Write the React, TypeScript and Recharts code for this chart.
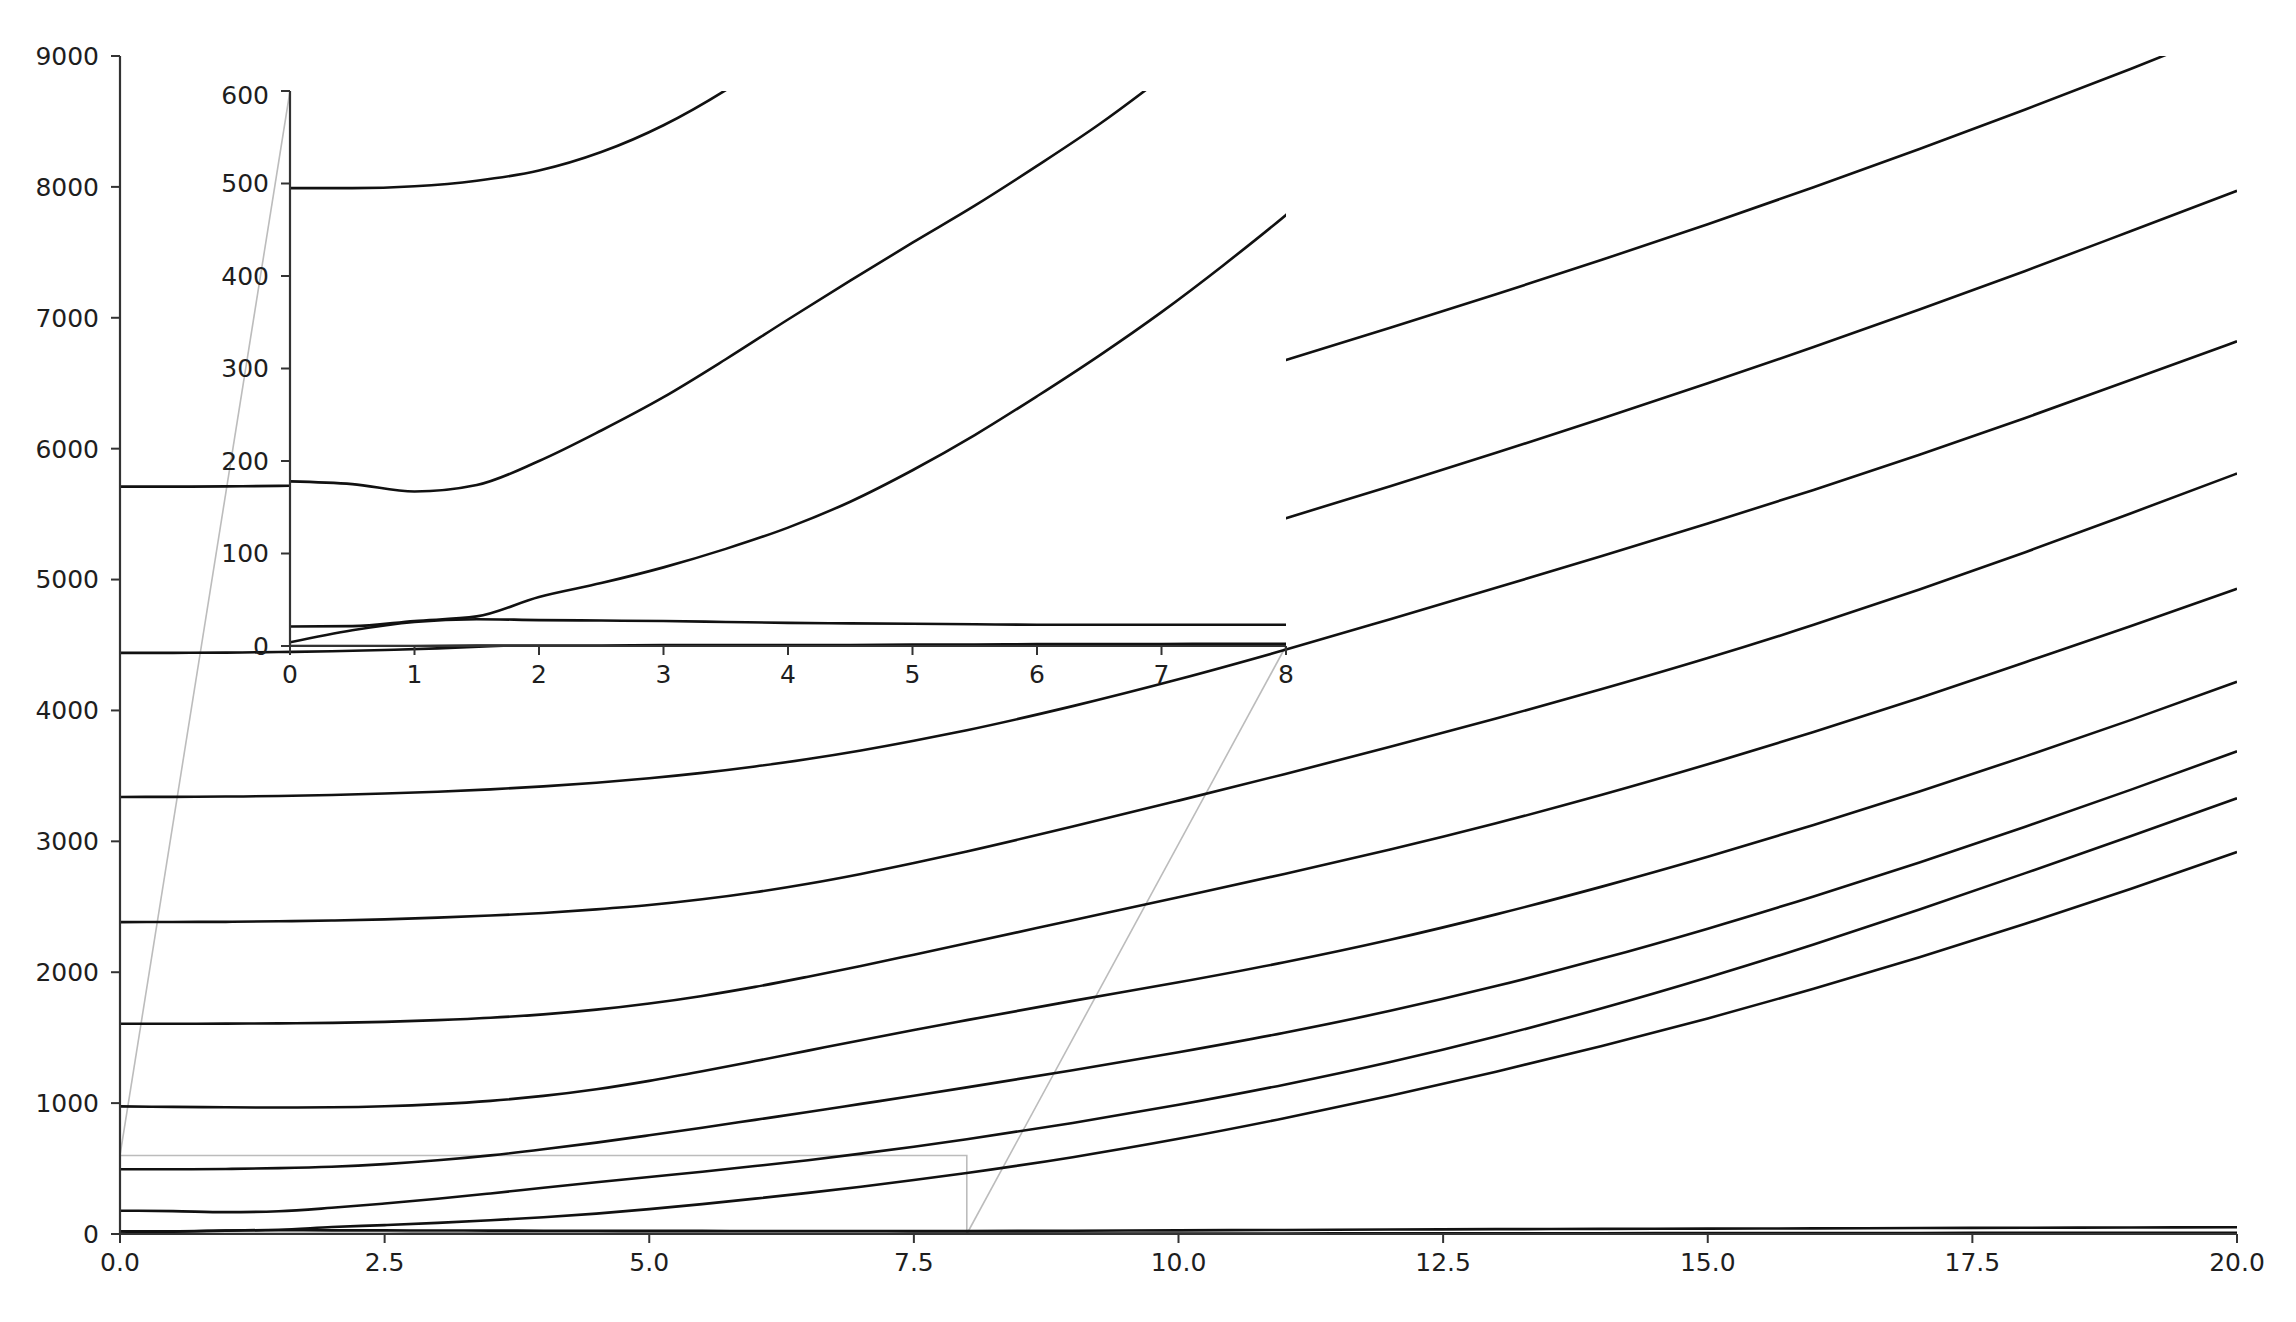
import React from "react";
import { LineChart, Line, XAxis, YAxis, ReferenceArea, ReferenceLine } from "recharts";

// sample positions (x) shared by every curve
const xs = [0, 0.5, 1, 1.5, 2, 2.5, 3, 3.5, 4, 4.5, 5, 5.5, 6, 6.5, 7, 7.5, 8, 9, 10, 11, 12, 13, 14, 15, 16, 17, 18, 19, 20];

// curves, top to bottom
const c1 = [5710, 5710, 5712, 5716, 5722, 5730, 5742, 5756, 5772, 5792, 5815, 5840, 5868, 5900, 5935, 5975, 6020, 6200, 6434, 6674, 6923, 7179, 7443, 7715, 7997, 8289, 8591, 8903, 9225];
const c2 = [4440, 4440, 4442, 4446, 4452, 4462, 4474, 4490, 4510, 4533, 4560, 4592, 4630, 4673, 4722, 4777, 4838, 4985, 5205, 5465, 5713, 5968, 6230, 6499, 6776, 7063, 7358, 7663, 7970];
const c3 = [3339, 3340, 3342, 3346, 3354, 3365, 3379, 3397, 3420, 3448, 3482, 3523, 3572, 3629, 3694, 3768, 3849, 4033, 4238, 4461, 4697, 4937, 5180, 5428, 5685, 5954, 6235, 6527, 6820];
const c4 = [2383, 2384, 2385, 2389, 2395, 2404, 2417, 2433, 2453, 2480, 2513, 2557, 2611, 2676, 2751, 2834, 2923, 3113, 3311, 3513, 3722, 3938, 4163, 4400, 4654, 4924, 5209, 5507, 5810];
const c5 = [1606, 1606, 1607, 1609, 1613, 1621, 1634, 1652, 1678, 1714, 1761, 1819, 1888, 1966, 2048, 2134, 2221, 2397, 2573, 2751, 2937, 3138, 3355, 3588, 3835, 4095, 4369, 4645, 4930];
const c6 = [975, 971, 968, 966, 968, 976, 992, 1017, 1055, 1106, 1170, 1243, 1321, 1401, 1481, 1559, 1634, 1781, 1923, 2076, 2248, 2442, 2654, 2882, 3125, 3381, 3649, 3928, 4219];
const c7 = [495, 495, 497, 503, 514, 534, 563, 601, 647, 698, 754, 812, 872, 932, 994, 1056, 1120, 1251, 1389, 1538, 1705, 1894, 2104, 2333, 2579, 2839, 3112, 3395, 3688];
const c8 = [178, 175, 167, 174, 200, 233, 269, 310, 353, 395, 436, 476, 519, 564, 614, 667, 724, 848, 987, 1141, 1314, 1509, 1725, 1960, 2212, 2479, 2757, 3041, 3329];
const c9 = [21, 21.5, 27, 32, 53, 68, 85, 105, 128, 156, 190, 228, 270, 314, 361, 412, 466, 587, 727, 884, 1056, 1240, 1436, 1647, 1873, 2114, 2370, 2638, 2919];
const c10 = [4, 17, 26, 29, 28, 27.5, 27, 26, 25, 24.5, 24, 23.5, 23, 23, 23, 23, 23, 25, 28, 31, 34, 37, 39, 41, 43, 46, 48, 50, 52];
const c11 = [0, 0, 0, 0.5, 0.5, 0.5, 1, 1, 1, 1, 1.5, 1.5, 2, 2, 2, 2.5, 2.5, 3, 3.5, 4, 5, 5.5, 6, 7, 7.5, 8, 8.5, 9, 10];

const series = [c1, c2, c3, c4, c5, c6, c7, c8, c9, c10, c11];
const keys = series.map((_, i) => `c${i + 1}`);

const mainXTicks = [0, 2.5, 5, 7.5, 10, 12.5, 15, 17.5, 20];
const mainYTicks = [0, 1000, 2000, 3000, 4000, 5000, 6000, 7000, 8000, 9000];
const insetXTicks = [0, 1, 2, 3, 4, 5, 6, 7, 8];
const insetYTicks = [0, 100, 200, 300, 400, 500, 600];
const mainXRange = [0, 20];
const mainYRange = [0, 9000];
const insetXRange = [0, 8];
const insetYRange = [0, 600];

const rows = xs.map((x, i) => {
  const r: Record<string, number> = { x };
  series.forEach((s, k) => {
    r[keys[k]] = s[i];
  });
  return r;
});

// layout (pixels)
const W = 2296;
const H = 1322;
const MAIN = { left: 120, top: 56, width: 2117, height: 1178 };
const INSET = { left: 290, top: 91, width: 996, height: 555 };
const Y_AXIS_W = 80;
const X_AXIS_H = 60;
const IN_Y_AXIS_W = 70;

const INK = "#111111";
const SPINE = "#333333";
const GREY = "#bcbcbc";
const tickStyle = { fontSize: 25, fill: "#1e1e1e", fontFamily: "DejaVu Sans" };

// pixel -> main data units, for the inset connector lines
const toMainX = (px: number) => mainXRange[0] + ((px - MAIN.left) / MAIN.width) * (mainXRange[1] - mainXRange[0]);
const toMainY = (py: number) => mainYRange[0] + ((MAIN.top + MAIN.height - py) / MAIN.height) * (mainYRange[1] - mainYRange[0]);

export default function App() {
  const lines = keys.map((k) => (
    <Line key={k} dataKey={k} type="monotone" stroke={INK} strokeWidth={2.6} dot={false} activeDot={false} isAnimationActive={false} />
  ));

  return (
    <div style={{ position: "absolute", left: 0, top: 0, width: W, height: H, background: "#fff", fontFamily: "DejaVu Sans" }}>
      <div style={{ position: "absolute", left: 0, top: 0 }}>
        <LineChart
          width={W}
          height={H}
          data={rows}
          margin={{ top: MAIN.top, right: W - MAIN.left - MAIN.width, left: MAIN.left - Y_AXIS_W, bottom: H - MAIN.top - MAIN.height - X_AXIS_H }}
        >
          <XAxis
            dataKey="x"
            type="number"
            domain={mainXRange}
            ticks={mainXTicks}
            allowDataOverflow
            height={X_AXIS_H}
            tickFormatter={(v: number) => v.toFixed(1)}
            tick={tickStyle}
            tickSize={9}
            tickMargin={10}
            axisLine={{ stroke: SPINE, strokeWidth: 2.2 }}
            tickLine={{ stroke: SPINE, strokeWidth: 2 }}
          />
          <XAxis xAxisId="top" orientation="top" type="number" domain={mainXRange} height={0} tick={false} tickLine={false} axisLine={{ stroke: SPINE, strokeWidth: 2.2 }} />
          <YAxis
            type="number"
            domain={mainYRange}
            ticks={mainYTicks}
            allowDataOverflow
            width={Y_AXIS_W}
            tick={tickStyle}
            tickSize={9}
            tickMargin={12}
            axisLine={{ stroke: SPINE, strokeWidth: 2.2 }}
            tickLine={{ stroke: SPINE, strokeWidth: 2 }}
          />
          <YAxis yAxisId="right" orientation="right" type="number" domain={mainYRange} width={0} tick={false} tickLine={false} axisLine={{ stroke: SPINE, strokeWidth: 2.2 }} />
          <ReferenceArea
            x1={insetXRange[0]}
            x2={insetXRange[1]}
            y1={insetYRange[0]}
            y2={insetYRange[1]}
            fill="none"
            stroke={GREY}
            strokeWidth={1.6}
            ifOverflow="visible"
          />
          <ReferenceLine
            segment={[
              { x: insetXRange[0], y: insetYRange[1] },
              { x: toMainX(INSET.left), y: toMainY(INSET.top) },
            ]}
            stroke={GREY}
            strokeWidth={1.6}
            ifOverflow="visible"
          />
          <ReferenceLine
            segment={[
              { x: insetXRange[1], y: insetYRange[0] },
              { x: toMainX(INSET.left + INSET.width), y: toMainY(INSET.top + INSET.height) },
            ]}
            stroke={GREY}
            strokeWidth={1.6}
            ifOverflow="visible"
          />
          {lines}
        </LineChart>
      </div>

      {/* white face of the inset axes */}
      <div style={{ position: "absolute", left: INSET.left, top: INSET.top, width: INSET.width, height: INSET.height, background: "#fff" }} />

      <div style={{ position: "absolute", left: INSET.left - IN_Y_AXIS_W, top: INSET.top - 10 }}>
        <LineChart
          width={IN_Y_AXIS_W + INSET.width + 10}
          height={10 + INSET.height + X_AXIS_H}
          data={rows}
          margin={{ top: 10, right: 10, left: 0, bottom: 0 }}
        >
          <XAxis
            dataKey="x"
            type="number"
            domain={insetXRange}
            ticks={insetXTicks}
            allowDataOverflow
            height={X_AXIS_H}
            tick={tickStyle}
            tickSize={9}
            tickMargin={10}
            axisLine={{ stroke: SPINE, strokeWidth: 2.2 }}
            tickLine={{ stroke: SPINE, strokeWidth: 2 }}
          />
          <XAxis xAxisId="top" orientation="top" type="number" domain={insetXRange} height={0} tick={false} tickLine={false} axisLine={{ stroke: SPINE, strokeWidth: 2.2 }} />
          <YAxis
            type="number"
            domain={insetYRange}
            ticks={insetYTicks}
            allowDataOverflow
            width={IN_Y_AXIS_W}
            tick={tickStyle}
            tickSize={9}
            tickMargin={12}
            axisLine={{ stroke: SPINE, strokeWidth: 2.2 }}
            tickLine={{ stroke: SPINE, strokeWidth: 2 }}
          />
          <YAxis yAxisId="right" orientation="right" type="number" domain={insetYRange} width={0} tick={false} tickLine={false} axisLine={{ stroke: SPINE, strokeWidth: 2.2 }} />
          {lines}
        </LineChart>
      </div>
    </div>
  );
}
